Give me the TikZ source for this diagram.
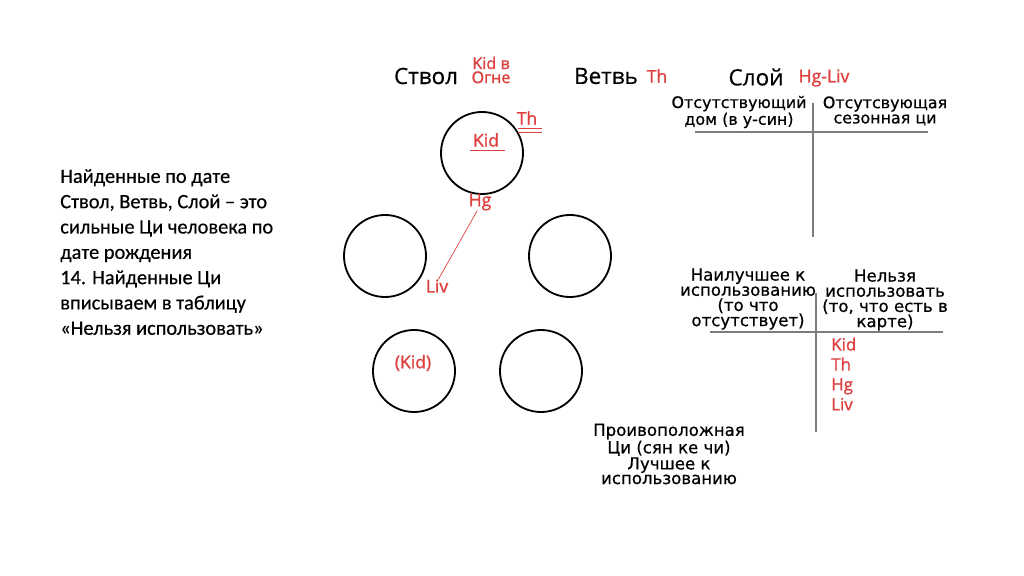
\documentclass[tikz,border=0pt]{standalone}
\usepackage{fontspec}
\setmainfont{Open Sans}
\newfontfamily\headfont[FakeBold=0.5]{Open Sans}
\newfontfamily\redfont[FakeBold=1.2]{Open Sans}
\newfontfamily\notefont[FakeBold=0.4]{Carlito}
\newfontfamily\tablefont[FakeBold=0.6]{DejaVu Sans}
\usetikzlibrary{positioning}
\definecolor{notered}{RGB}{222,64,64}
\definecolor{rulegray}{RGB}{125,125,125}

\begin{document}
\begin{tikzpicture}[x=0.025cm,y=-0.025cm,
    ring/.style={draw,line width=1.3pt,circle,minimum size=2.05cm,inner sep=0pt},
    head/.style={font=\headfont\fontsize{16}{18}\selectfont,inner sep=0pt},
    redtag/.style={text=notered,font=\redfont\fontsize{12.5}{14}\selectfont,inner sep=0pt},
    tabhead/.style={font=\tablefont\fontsize{11.3}{10.8}\selectfont,align=center,inner sep=0pt},
    tabrule/.style={rulegray,line width=0.9pt}]
  \useasboundingbox[fill=white] (0,0) rectangle (1024,576);

  % --- Heading: Ствол, Ветвь, Слой ---
  \node[head] (stvol) at (426,76) {Ствол};
  \node[redtag,font=\redfont\fontsize{11.5}{10}\selectfont,align=center] (stvolq) at (491,70) {Kid в\\Огне};
  \node[head] (vetv) at (606,76) {Ветвь};
  \node[redtag] (vetvq) at (657,76) {Th};
  \node[head] (sloy) at (756,77) {Слой};
  \node[redtag] (sloyq) at (824,78) {Hg-Liv};

  % --- Left note ---
  \node[font=\notefont\fontsize{14.5}{18}\selectfont,align=left,anchor=west,inner sep=0pt] (note) at (60,252)
    {Найденные по дате\\Ствол, Ветвь, Слой – это\\сильные Ци человека по\\дате рождения\\14. Найденные Ци\\вписываем в таблицу\\«Нельзя использовать»};

  % --- Five circles ---
  \node[ring] (top) at (482,153) {};
  \node[ring] (midl) at (385,256) {};
  \node[ring] (midr) at (570,256) {};
  \node[ring] (botl) at (414,371) {};
  \node[ring] (botr) at (541,371) {};

  % Red marks on the circles
  \node[redtag] (kid) at (486,140) {Kid};
  \draw[notered,line width=0.6pt] (470,150) -- (505,150);
  \node[redtag] (th) at (527,118) {Th};
  \draw[notered,line width=0.6pt] (518,128) -- (542,128);
  \draw[notered,line width=0.6pt] (518,132) -- (542,132);
  \node[redtag] (hg) at (480,202) {Hg};
  \node[redtag] (liv) at (437,286) {Liv};
  \draw[notered,line width=0.5pt] ([xshift=-2pt]hg.south) -- ([xshift=1pt]liv.north);
  \node[redtag] (kidb) at (413,363) {(Kid)};

  % --- Table 1 ---
  \node[tabhead] (absent) at (739,112) {Отсутствующий\\дом (в у-син)};
  \node[tabhead] (season) at (885,111) {Отсутсвующая\\сезонная ци};
  \draw[tabrule] (695,132) -- (928,132);
  \draw[tabrule] (813,103) -- (813,237);

  % --- Table 2 ---
  \node[tabhead,font=\tablefont\fontsize{11.8}{10.8}\selectfont] (best) at (748,299) {Наилучшее к\\использованию\\(то что\\отсутствует)};
  \node[tabhead,font=\tablefont\fontsize{11.8}{10.8}\selectfont] (banned) at (885,300) {Нельзя\\использовать\\(то, что есть в\\карте)};
  \draw[tabrule] (710,332) -- (943,332);
  \draw[tabrule] (816,293) -- (816,432);
  \node[redtag,font=\redfont\fontsize{12}{14.2}\selectfont,align=left,anchor=west] (list) at (831,374) {Kid\\Th\\Hg\\Liv};

  % --- Opposite Qi ---
  \node[tabhead,font=\tablefont\fontsize{11.8}{10.4}\selectfont] (opp) at (669,454)
    {Проивоположная\\Ци (сян ке чи)\\Лучшее к\\использованию};
\end{tikzpicture}
\end{document}
